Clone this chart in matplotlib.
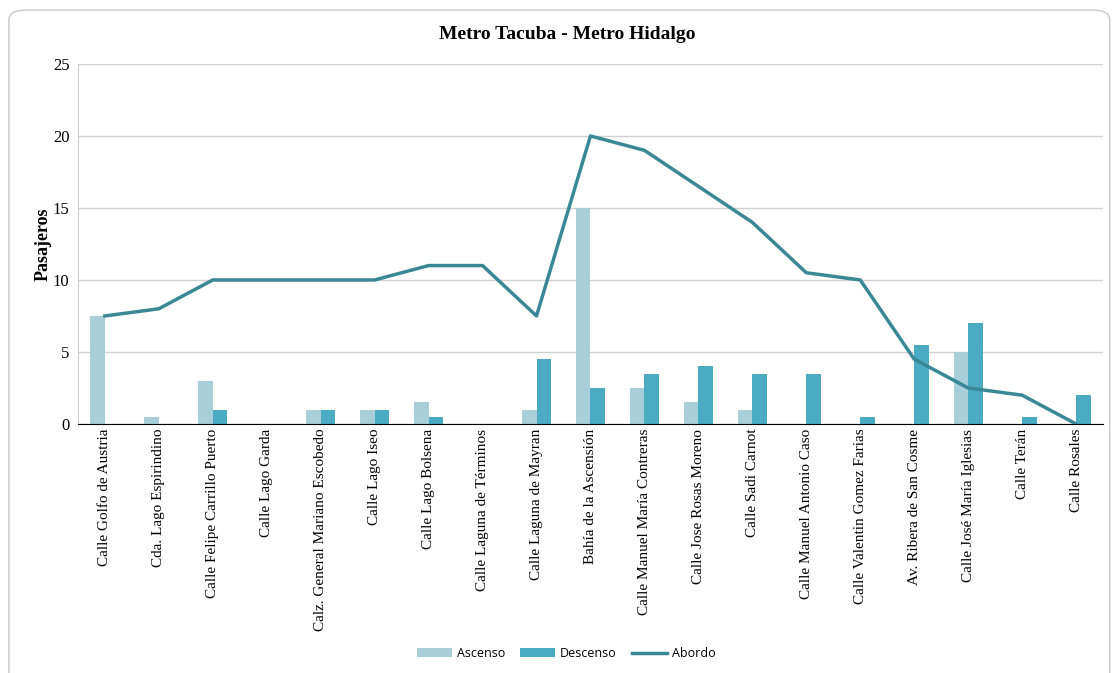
import numpy as np
import matplotlib
matplotlib.use("Agg")
import matplotlib.pyplot as plt
from matplotlib.patches import FancyBboxPatch

paradas = [
    "Calle Golfo de Austria", "Cda. Lago Espirindino", "Calle Felipe Carrillo Puerto",
    "Calle Lago Garda", "Calz. General Mariano Escobedo", "Calle Lago Iseo",
    "Calle Lago Bolsena", "Calle Laguna de Términos", "Calle Laguna de Mayran",
    "Bahía de la Ascensión", "Calle Manuel María Contreras", "Calle Jose Rosas Moreno",
    "Calle Sadi Carnot", "Calle Manuel Antonio Caso", "Calle Valentin Gomez Farias",
    "Av. Ribera de San Cosme", "Calle José María Iglesias", "Calle Terán", "Calle Rosales",
]
ascenso = [7.5, 0.5, 3, 0, 1, 1, 1.5, 0, 1, 15, 2.5, 1.5, 1, 0, 0, 0, 5, 0, 0]
descenso = [0, 0, 1, 0, 1, 1, 0.5, 0, 4.5, 2.5, 3.5, 4, 3.5, 3.5, 0.5, 5.5, 7, 0.5, 2]
abordo = [7.5, 8, 10, 10, 10, 10, 11, 11, 7.5, 20, 19, 16.5, 14, 10.5, 10, 4.5, 2.5, 2, 0]

serif = "Liberation Serif"

fig = plt.figure(figsize=(11.12, 6.73), dpi=100)
fig.patches.append(FancyBboxPatch((0.008, -0.02), 0.99, 1.005, boxstyle="round,pad=0,rounding_size=0.015",
                                  transform=fig.transFigure, fill=False, edgecolor="#c8c8c8", lw=1))
ax = fig.add_axes([0.070, 0.370, 0.922, 0.535])

x = np.arange(len(paradas))
w = 0.27
b1 = ax.bar(x - w / 2, ascenso, w, color="#a8ceda", label="Ascenso", zorder=2)
b2 = ax.bar(x + w / 2, descenso, w, color="#4aabc3", label="Descenso", zorder=2)
l1, = ax.plot(x, abordo, color="#3a8796", lw=2.5, label="Abordo", zorder=3)

ax.set_xlim(-0.5, len(paradas) - 0.5)
ax.set_ylim(0, 25)
ax.set_yticks([0, 5, 10, 15, 20, 25])
ax.yaxis.grid(True, color="#d0d0d0", lw=1, zorder=0)
ax.set_axisbelow(True)
for s in ["top", "right"]:
    ax.spines[s].set_visible(False)
ax.spines["left"].set_color("#d0d0d0")
ax.spines["bottom"].set_color("black")
ax.tick_params(axis="both", length=0)
ax.tick_params(axis="y", pad=6, labelsize=12)
ax.set_xticks(x)
ax.set_xticklabels(paradas, rotation=90, fontfamily=serif, fontsize=11)
for t in ax.get_yticklabels():
    t.set_fontfamily(serif)
ax.set_ylabel("Pasajeros", fontfamily=serif, fontweight="bold", fontsize=13, labelpad=1)
ax.set_title("Metro Tacuba - Metro Hidalgo", fontfamily=serif, fontweight="bold", fontsize=14, pad=18, x=0.477)

fig.legend([b1, b2, l1], ["Ascenso", "Descenso", "Abordo"], loc="center", bbox_to_anchor=(0.509, 0.029),
           ncol=3, frameon=False, prop={"family": "Open Sans", "size": 9},
           handlelength=2.8, handleheight=0.7, handletextpad=0.4, columnspacing=1.2)

fig.savefig("out.png", dpi=100)
